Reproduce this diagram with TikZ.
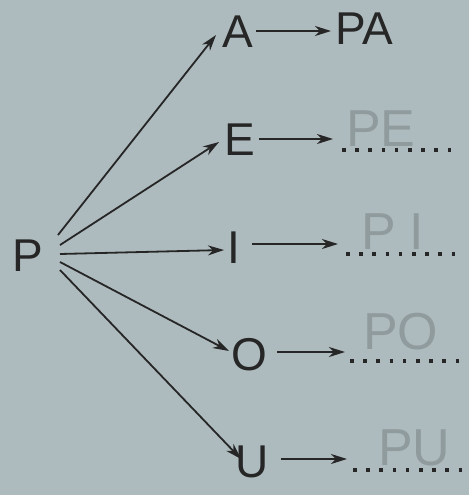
\documentclass[tikz,border=0pt]{standalone}
\usepackage{fontspec}
\setmainfont{Liberation Sans}
\usetikzlibrary{arrows.meta}
\definecolor{paper}{HTML}{AEBBBE}
\definecolor{ink}{HTML}{262626}
\definecolor{pencil}{HTML}{8F9B9D}
\tikzset{
  letter/.style={anchor=base west,inner sep=0pt,text=ink,font=\fontsize{46}{46}\selectfont},
  answer/.style={anchor=base west,inner sep=0pt,text=pencil,font=\fontsize{52}{52}\selectfont},
  arr/.style={draw=ink,line width=1.8pt,-{Stealth[length=16pt,width=10pt,inset=5pt]}},
  dots/.style={draw=ink,line width=3.6pt,dash pattern=on 3.6pt off 9.6pt}
}
\begin{document}
\begin{tikzpicture}[x=1pt,y=-1pt]
\useasboundingbox[fill=paper] (0,0) rectangle (469,495);
% letters
\node[letter] (P) at (12,271) {P};
\node[letter] (A) at (222,48) {A};
\node[letter] (PA) at (335,45) {PA};
\node[letter] (E) at (224,155) {E};
\node[letter] (I) at (227,263) {I};
\node[letter] (O) at (231,370) {O};
\node[letter] (U) at (235,477) {U};
% pencil answers
\node[answer] (PE) at (346,146) {PE};
\node[answer] (PI) at (361,249) {P\hspace{14pt}I};
\node[answer] (PO) at (363,349) {PO};
\node[answer] (PU) at (378,465) {PU};
% start points near P
\coordinate (sA) at (58,235);
\coordinate (sE) at (60,245);
\coordinate (sI) at (60,254);
\coordinate (sO) at (60,262);
\coordinate (sU) at (60,270);
% tips
\coordinate (tA) at (216,35);
\coordinate (tE) at (219,142);
\coordinate (tI) at (224,250);
\coordinate (tO) at (229,351);
\coordinate (tU) at (241,459);
\draw[arr] (sA) -- (tA);
\draw[arr] (sE) -- (tE);
\draw[arr] (sI) -- (tI);
\draw[arr] (sO) -- (tO);
\draw[arr] (sU) -- (tU);
% second arrows
\coordinate (aA) at (331,31);
\coordinate (aE) at (333,139);
\coordinate (aI) at (338,244);
\coordinate (aO) at (345,352);
\coordinate (aU) at (347,459);
\draw[arr] (A.east |- aA) ++(3,0) -- (aA);
\draw[arr] ([xshift=4pt]E.east |- aE) -- (aE);
\draw[arr] ([xshift=12pt]I.east |- aI) -- (aI);
\draw[arr] ([xshift=10pt]O.east |- aO) -- (aO);
\draw[arr] ([xshift=12pt]U.east |- aU) -- (aU);
% dotted answer lines
\draw[dots] (342,150) -- (452,150);
\draw[dots] (346,254) -- (456,254);
\draw[dots] (350,361) -- (460,361);
\draw[dots] (353,470) -- (463,470);
\end{tikzpicture}
\end{document}
